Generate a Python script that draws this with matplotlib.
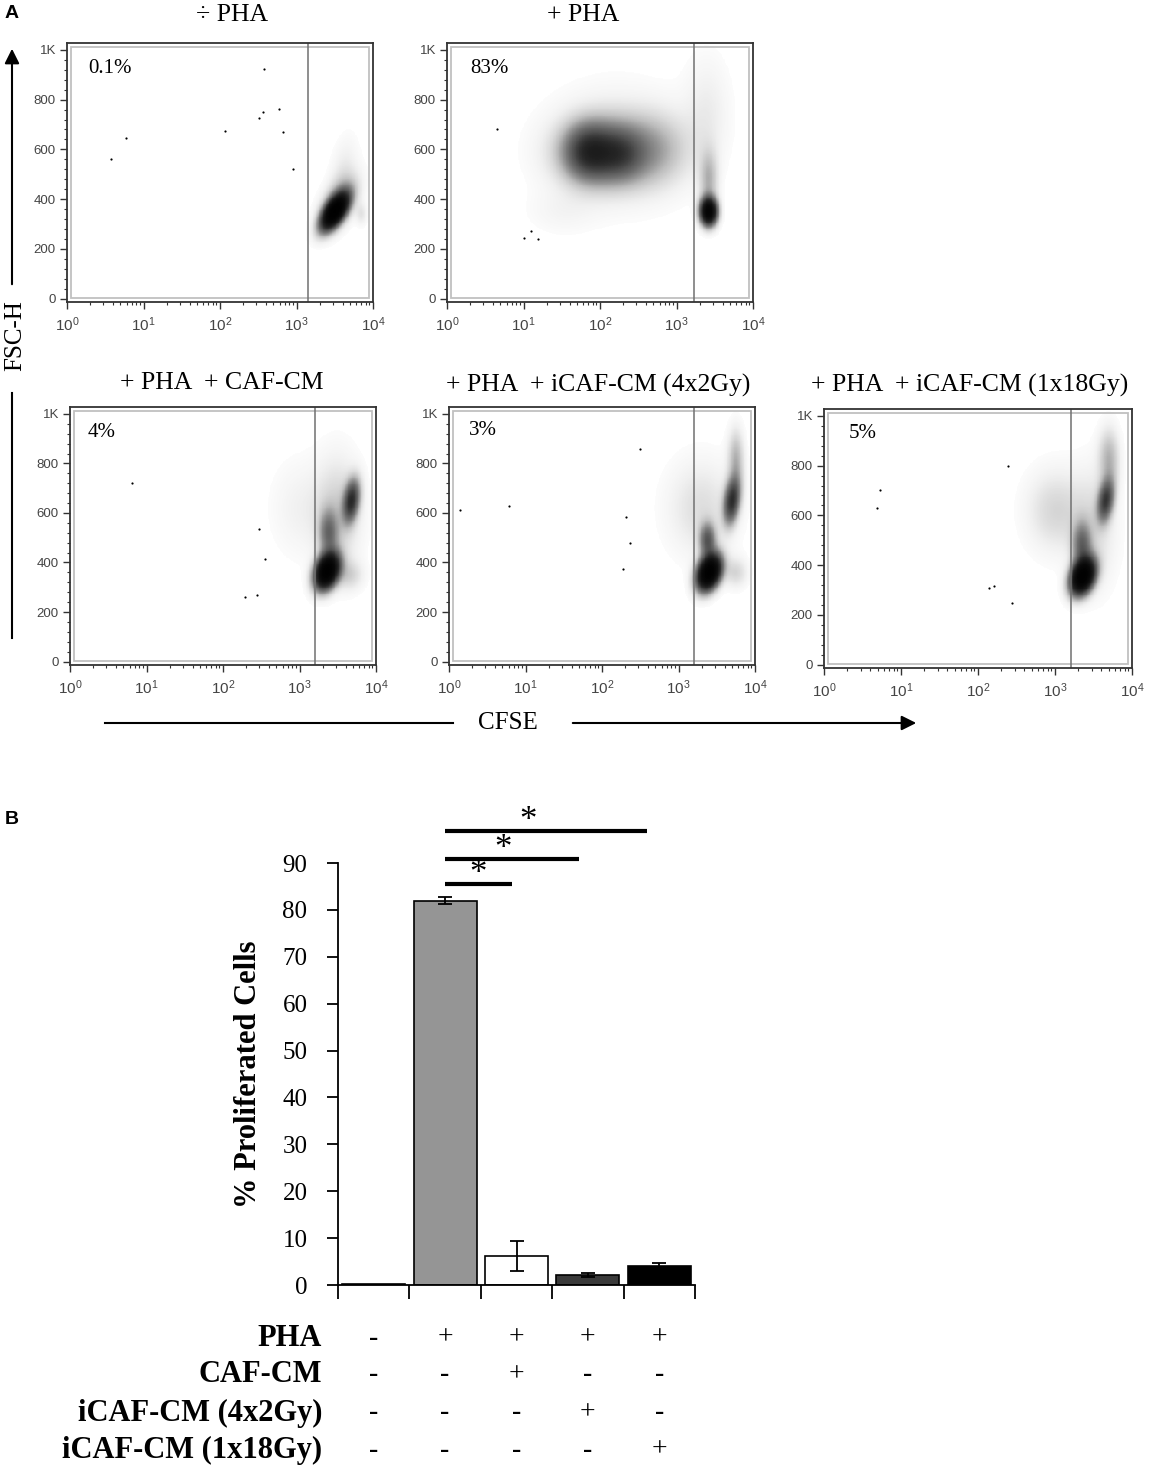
import numpy as np
import matplotlib
matplotlib.use("Agg")
import matplotlib.pyplot as plt
from matplotlib.patches import Rectangle
from matplotlib.ticker import FixedLocator, MultipleLocator, LogLocator, NullFormatter
from matplotlib.transforms import blended_transform_factory

plt.rcParams["font.family"] = ["Liberation Serif", "DejaVu Serif"]
plt.rcParams["mathtext.fontset"] = "custom"
plt.rcParams["mathtext.rm"] = "Liberation Sans"

############################
# Data
############################
# flow panels: clouds as (log10 CFSE centre, FSC centre, sd log10, sd FSC, corr, density)
neg_pha_clouds = [(3.50, 350, 0.11, 45, 0.6, 5.0),
                  (3.55, 385, 0.16, 70, 0.5, 0.7),
                  (3.62, 520, 0.12, 90, 0.3, 0.15),
                  (3.85, 340, 0.05, 30, 0.0, 0.2)]
neg_pha_points = [(3.8, 560), (5.9, 645), (118, 675), (380, 924), (325, 728),
                  (360, 751), (590, 764), (670, 671), (890, 523)]

pha_clouds = [(2.10, 590, 0.42, 95, 0.0, 0.9),
              (1.85, 590, 0.20, 70, 0.0, 1.3),
              (2.25, 580, 0.20, 65, 0.0, 0.8),
              (2.75, 600, 0.30, 100, 0.0, 0.35),
              (2.20, 620, 0.60, 170, 0.0, 0.12),
              (3.42, 350, 0.07, 35, 0.0, 4.0),
              (3.42, 480, 0.08, 80, 0.0, 0.5),
              (3.40, 750, 0.20, 150, 0.0, 0.15),
              (1.50, 350, 0.30, 60, 0.0, 0.08)]
pha_points = [(4.5, 683), (10, 245), (15.5, 240), (12.7, 273)]

caf_clouds = [(3.36, 365, 0.10, 45, 0.3, 5.0),
              (3.38, 520, 0.08, 60, 0.0, 0.9),
              (3.68, 650, 0.07, 55, 0.3, 1.8),
              (3.50, 600, 0.20, 150, 0.0, 0.35),
              (3.00, 620, 0.25, 130, 0.0, 0.12),
              (3.65, 350, 0.12, 40, 0.0, 0.3)]
caf_points = [(6.5, 720), (195, 259), (275, 267), (355, 413), (300, 534)]

icaf_4x2_clouds = [(3.40, 360, 0.10, 45, 0.3, 5.0),
                   (3.38, 490, 0.07, 45, 0.0, 1.2),
                   (3.70, 650, 0.07, 60, 0.3, 1.8),
                   (3.75, 820, 0.07, 80, 0.0, 0.5),
                   (3.30, 620, 0.30, 130, 0.0, 0.25),
                   (3.75, 360, 0.10, 40, 0.0, 0.3)]
icaf_4x2_points = [(1.4, 611), (6.0, 629), (316, 858), (209, 584), (190, 372), (234, 478)]

icaf_1x18_clouds = [(3.36, 355, 0.10, 45, 0.3, 5.0),
                    (3.35, 480, 0.08, 60, 0.0, 1.0),
                    (3.66, 660, 0.07, 55, 0.3, 1.6),
                    (3.70, 830, 0.09, 80, 0.0, 0.5),
                    (3.00, 620, 0.25, 110, 0.0, 0.3),
                    (3.50, 550, 0.20, 160, 0.0, 0.25)]
icaf_1x18_points = [(5.4, 704), (4.9, 628), (141, 308), (160, 315), (275, 248), (245, 797)]

flow_titles = ["\u00f7 PHA", "+ PHA", "+ PHA  + CAF-CM",
               "+ PHA  + iCAF-CM (4x2Gy)", "+ PHA  + iCAF-CM (1x18Gy)"]
flow_percent = ["0.1%", "83%", "4%", "3%", "5%"]
flow_gate = [1400, 1700, 1600, 1600, 1620]

# bar chart
bar_values = [0.2, 82.0, 6.2, 2.1, 4.1]
bar_errors = [0.0, 0.8, 3.2, 0.5, 0.5]
bar_colors = ["#959595", "#959595", "white", "#3a3a3a", "black"]
sig_start = 1.0
sig_end = [1.94, 2.88, 3.83]
sig_heights = [85.5, 90.8, 96.8]
sig_star_x = [1.46, 1.81, 2.16]

table_labels = ["PHA", "CAF-CM", "iCAF-CM (4x2Gy)", "iCAF-CM (1x18Gy)"]
pha_row = ["-", "+", "+", "+", "+"]
caf_row = ["-", "-", "+", "-", "-"]
icaf_4x2_row = ["-", "-", "-", "+", "-"]
icaf_1x18_row = ["-", "-", "-", "-", "+"]

############################
# Figure
############################
W, H = 1150, 1471
fig = plt.figure(figsize=(W / 100, H / 100), dpi=100)


def px_axes(l, t, r, b):
    return fig.add_axes([l / W, 1 - b / H, (r - l) / W, (b - t) / H])


# overlay in pixel coordinates for labels and arrows
over = fig.add_axes([0, 0, 1, 1], zorder=5)
over.set_xlim(0, W)
over.set_ylim(H, 0)
over.axis("off")
over.patch.set_alpha(0)


def draw_cloud(ax, clouds):
    lx = np.linspace(0, 4, 401)
    yy = np.linspace(-14, 1028, 301)
    cx = 0.5 * (lx[1:] + lx[:-1])
    cy = 0.5 * (yy[1:] + yy[:-1])
    LX, YY = np.meshgrid(cx, cy)
    depth = np.zeros_like(LX)
    for mx, my, sx, sy, rho, d in clouds:
        u = (LX - mx) / sx
        v = (YY - my) / sy
        q = (u * u - 2 * rho * u * v + v * v) / (1 - rho ** 2)
        depth += d * np.exp(-0.5 * q)
    dark = np.ma.masked_less(1 - np.exp(-depth), 0.03)
    ax.pcolormesh(10 ** lx, yy, dark, cmap="Greys", vmin=0, vmax=1.0, shading="flat")


flow_boxes = [(67, 43, 373, 302), (447, 43, 753, 302),
              (70, 407, 376, 665), (449, 407, 755, 665), (824, 409, 1132, 668)]
flow_clouds = [neg_pha_clouds, pha_clouds, caf_clouds, icaf_4x2_clouds, icaf_1x18_clouds]
flow_points = [neg_pha_points, pha_points, caf_points, icaf_4x2_points, icaf_1x18_points]
title_pos = [(232, 15), (583, 15), (222, 383), (598, 385), (970, 385)]
pct_pos = [(0.069, 0.903), (0.075, 0.903), (0.059, 0.903), (0.065, 0.91), (0.081, 0.907)]

for i in range(5):
    ax = px_axes(*flow_boxes[i])
    draw_cloud(ax, flow_clouds[i])
    pts = np.array(flow_points[i])
    ax.scatter(pts[:, 0], pts[:, 1], s=2.5, c="black", linewidths=0)
    ax.axvline(flow_gate[i], color="#707070", lw=1.1)
    ax.set_xscale("log")
    ax.set_xlim(1, 1e4)
    ax.set_ylim(-14, 1028)
    ax.add_patch(Rectangle((0.012, 0.014), 0.976, 0.972, transform=ax.transAxes,
                           fill=False, ec="#c0c0c0", lw=1.3))
    for s in ax.spines.values():
        s.set_color("#333333")
        s.set_linewidth(1.3)
    ax.yaxis.set_major_locator(FixedLocator([0, 200, 400, 600, 800, 1000]))
    ax.set_yticklabels(["0", "200", "400", "600", "800", "1K"])
    ax.yaxis.set_minor_locator(MultipleLocator(40))
    ax.xaxis.set_major_locator(FixedLocator([1, 10, 100, 1000, 10000]))
    ax.set_xticklabels([r"$\mathregular{10^{%d}}$" % k for k in range(5)])
    ax.xaxis.set_minor_locator(LogLocator(base=10, subs=np.arange(2, 10)))
    ax.xaxis.set_minor_formatter(NullFormatter())
    ax.tick_params(which="major", length=5, width=1, color="#333333",
                   labelsize=9.5, labelcolor="#444444", pad=3)
    ax.tick_params(which="minor", length=2.5, width=0.8, color="#333333")
    ax.tick_params(axis="x", pad=5, labelsize=11)
    for lab in ax.get_yticklabels() + ax.get_xticklabels():
        lab.set_family("Liberation Sans")
    ax.text(pct_pos[i][0], pct_pos[i][1], flow_percent[i], transform=ax.transAxes,
            fontsize=15, va="center", ha="left")
    over.text(title_pos[i][0], title_pos[i][1], flow_titles[i], fontsize=18.5,
              ha="center", va="center")

# axis names with arrows
over.text(15, 336, "FSC-H", rotation=90, fontsize=18, ha="center", va="center")
over.plot([12, 12], [393, 638], color="black", lw=1.5)
over.annotate("", xy=(12, 46), xytext=(12, 287),
              arrowprops=dict(arrowstyle="-|>", lw=1.5, color="black", mutation_scale=22))
over.text(508, 723, "CFSE", fontsize=18, ha="center", va="center")
over.plot([105, 453], [723, 723], color="black", lw=1.5)
over.annotate("", xy=(919, 723), xytext=(570, 723),
              arrowprops=dict(arrowstyle="-|>", lw=1.5, color="black", mutation_scale=22))

over.text(5, 13, "A", fontsize=14, fontweight="bold", family="Liberation Sans", va="center")
over.text(5, 819, "B", fontsize=14, fontweight="bold", family="Liberation Sans", va="center")

############################
# Bar chart
############################
axb = px_axes(338, 863, 695, 1285)
xpos = np.arange(len(bar_values))
axb.bar(xpos, bar_values, width=0.88, color=bar_colors, edgecolor="black", linewidth=1.2)
axb.errorbar(xpos[1:], bar_values[1:], yerr=bar_errors[1:], fmt="none", ecolor="black",
             elinewidth=1.3, capsize=5, capthick=1.3)
axb.set_xlim(-0.5, 4.5)
axb.set_ylim(0, 90)
axb.spines["top"].set_visible(False)
axb.spines["right"].set_visible(False)
axb.spines["left"].set_linewidth(1.3)
axb.spines["bottom"].set_linewidth(1.3)
axb.set_yticks(np.arange(0, 91, 10))
axb.set_xticks(np.arange(-0.5, 4.6, 1.0))
axb.set_xticklabels([])
axb.tick_params(axis="y", length=8, width=1.3, labelsize=18, pad=14)
axb.tick_params(axis="x", length=10, width=1.3)
axb.set_ylabel("% Proliferated Cells", fontsize=22, fontweight="bold", labelpad=14)

for x_end, h, sx in zip(sig_end, sig_heights, sig_star_x):
    axb.plot([sig_start, x_end], [h, h], color="black", lw=3, clip_on=False,
             solid_capstyle="butt")
    axb.text(sx, h + 0.3, "*", fontsize=25, ha="center", va="baseline")

# condition table under the bars
tr = blended_transform_factory(axb.transData, fig.transFigure)
table_rows = [pha_row, caf_row, icaf_4x2_row, icaf_1x18_row]
row_y = [1338, 1375, 1413, 1450]
for label, row, y in zip(table_labels, table_rows, row_y):
    fig.text(322 / W, 1 - y / H, label, fontsize=22, fontweight="bold", ha="right", va="center")
    for j, sym in enumerate(row):
        axb.text(xpos[j], 1 - y / H, sym, transform=tr, fontsize=20, ha="center", va="center",
                 fontweight="bold" if sym == "-" else "normal")

fig.savefig("out.png", dpi=100)
